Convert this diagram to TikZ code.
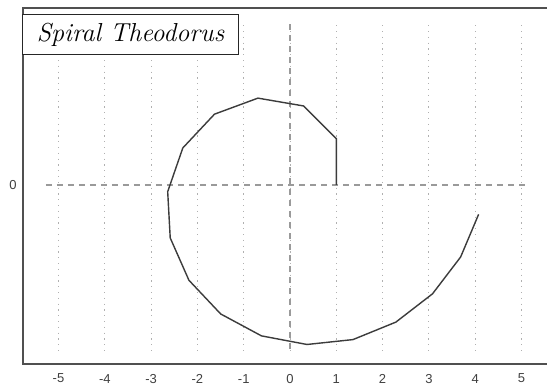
\documentclass[tikz,border=0pt]{standalone}
\usepackage{fontspec}
\newfontfamily\labelfont{Liberation Sans}
\definecolor{framecol}{HTML}{505050}
\definecolor{curvecol}{HTML}{3C3C3C}
\definecolor{axiscol}{HTML}{9A9A9A}
\definecolor{gridcol}{HTML}{B0B0B0}
\definecolor{textcol}{HTML}{404040}
\tikzset{
  framestyle/.style={draw=framecol, line width=1.8pt},
  gridline/.style={draw=gridcol, line width=1pt, dash pattern=on 1.2pt off 4.6pt},
  axisline/.style={draw=axiscol, line width=1.2pt, dash pattern=on 6pt off 5pt},
  spiralline/.style={draw=curvecol, line width=1.4pt, line join=miter},
  ticklabel/.style={font=\labelfont\fontsize{13}{15}\selectfont, text=textcol, inner sep=0pt},
  titlebox/.style={draw=black!85, line width=1.1pt, fill=white, minimum width=216pt, minimum height=40pt, inner sep=0pt,
    font=\fontsize{26}{30}\selectfont\itshape}
}
\begin{document}
\begin{tikzpicture}[x=1pt,y=1pt]
\useasboundingbox (0,0) rectangle (547,388);
\fill[white] (0,0) rectangle (547,388);
\begin{scope}[shift={(290,203)}, x=46.3pt, y=46.3pt]
  % grid
  \foreach \i in {-5,...,5}{
    \coordinate (gt\i) at (\i,3.45);
    \coordinate (gb\i) at (\i,-3.57);
    \draw[gridline] (gt\i) -- (gb\i);
    \node[ticklabel] (tick\i) at (\i,-4.18) {\i};
  }
  % axes
  \coordinate (yt) at (0,3.47);
  \coordinate (yb) at (0,-3.57);
  \coordinate (xl) at (-5.27,0);
  \coordinate (xr) at (5.18,0);
  \draw[axisline] (yt) -- (yb);
  \draw[axisline] (xl) -- (xr);
  % spiral of Theodorus
  \coordinate (p1) at (0:1);
  \coordinate (p2) at (45:1.4142);
  \coordinate (p3) at (80.2644:1.7321);
  \coordinate (p4) at (110.2644:2);
  \coordinate (p5) at (136.8295:2.2361);
  \coordinate (p6) at (160.9243:2.4495);
  \coordinate (p7) at (183.1320:2.6458);
  \coordinate (p8) at (203.8368:2.8284);
  \coordinate (p9) at (223.3080:3);
  \coordinate (p10) at (241.7429:3.1623);
  \coordinate (p11) at (259.2913:3.3166);
  \coordinate (p12) at (276.0700:3.4641);
  \coordinate (p13) at (292.1721:3.6056);
  \coordinate (p14) at (307.6735:3.7417);
  \coordinate (p15) at (322.6367:3.8730);
  \coordinate (p16) at (337.1142:4);
  \coordinate (p17) at (351.1504:4.1231);
  \draw[spiralline] (p1) -- (p2) -- (p3) -- (p4) -- (p5) -- (p6) -- (p7) -- (p8) -- (p9)
    -- (p10) -- (p11) -- (p12) -- (p13) -- (p14) -- (p15) -- (p16) -- (p17);
\end{scope}
% y label
\node[ticklabel] (ylab) at (13,203) {0};
% frame (right side cut off)
\coordinate (ftr) at (547,380);
\coordinate (ftl) at (23,380);
\coordinate (fbl) at (23,24);
\coordinate (fbr) at (547,24);
\draw[framestyle] (ftr) -- (ftl) -- (fbl) -- (fbr);
% title
\node[titlebox, anchor=north west] (title) at (22,374) {Spiral Theodorus};
\end{tikzpicture}
\end{document}
